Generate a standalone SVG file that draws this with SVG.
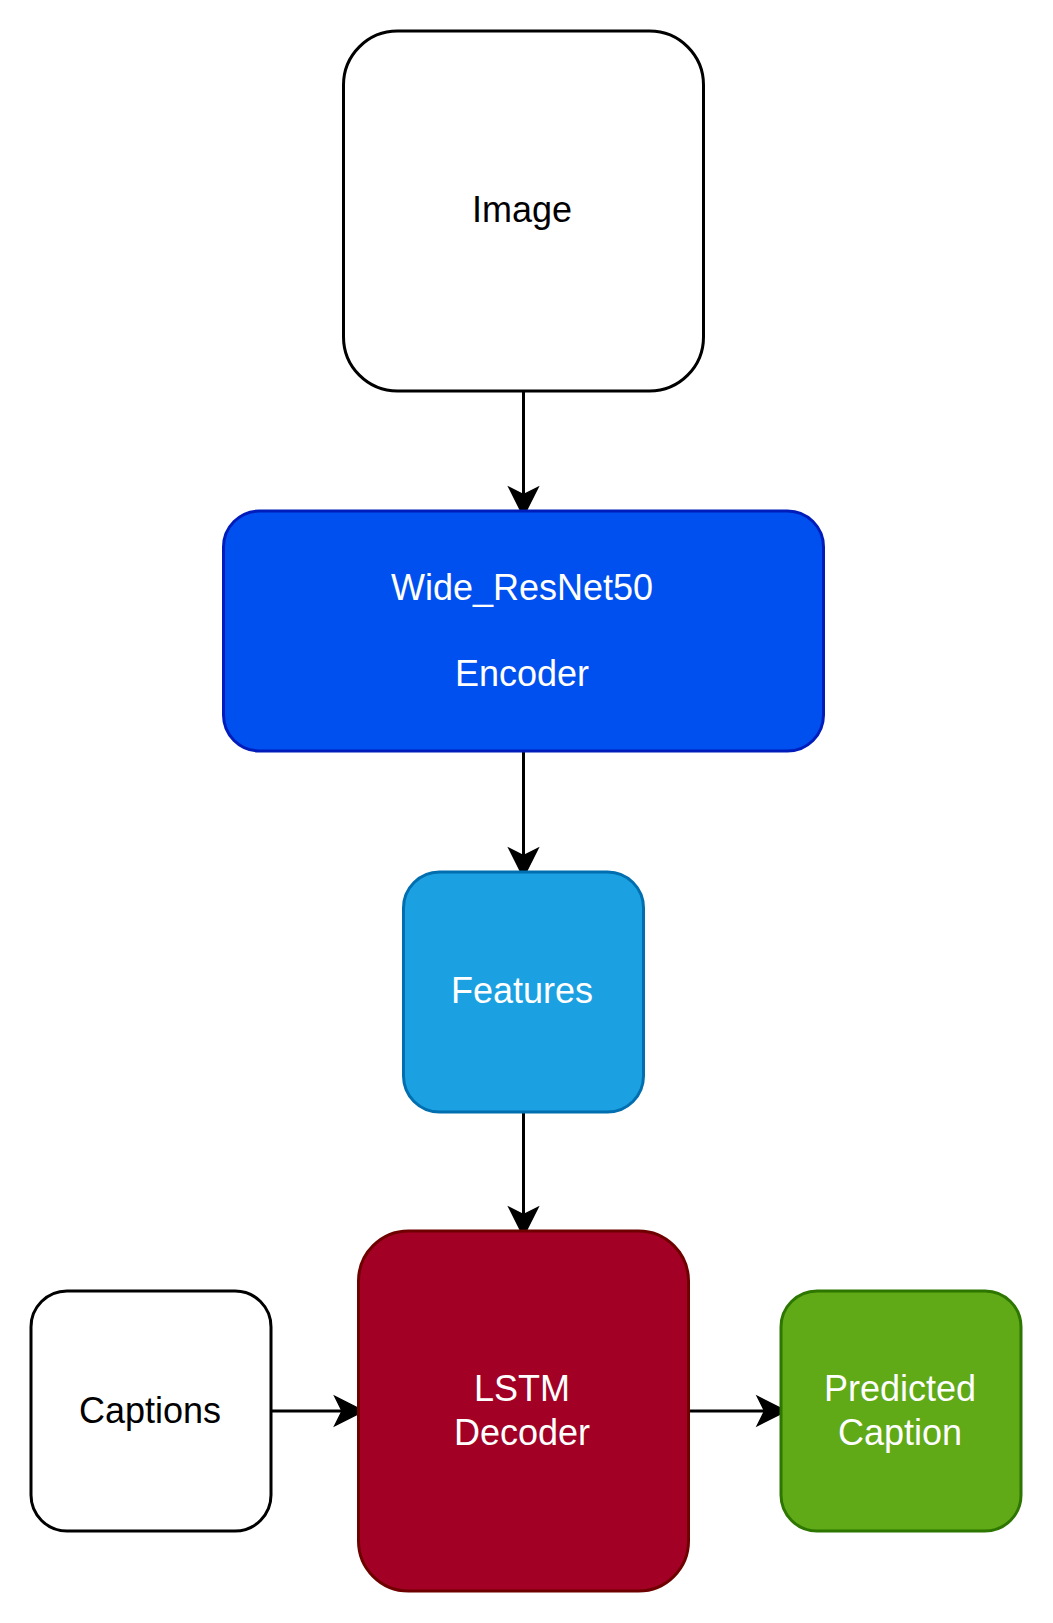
<svg xmlns="http://www.w3.org/2000/svg" width="1053" height="1623" viewBox="0 0 1053 1623">
<style>
.box{stroke-width:3}
.lbl{font-family:"Liberation Sans",Arial,Helvetica,sans-serif;font-size:36px;text-anchor:middle}
.w{fill:#ffffff}
.k{fill:#000000}
.edge{fill:none;stroke:#000000;stroke-width:3}
</style>
<defs>
<marker id="arr" markerUnits="userSpaceOnUse" markerWidth="40" markerHeight="40" viewBox="-10 -15 30 30" refX="0" refY="0" orient="auto" overflow="visible">
<path d="M16.5,0 L-5.5,-11 L0,0 L-5.5,11 Z" fill="#000000" stroke="#000000" stroke-width="1"/>
</marker>
</defs>
<rect width="1053" height="1623" fill="#ffffff"/>
<g id="connectors">
<line class="edge" x1="523.5" y1="391" x2="523.5" y2="494.5" marker-end="url(#arr)"/>
<line class="edge" x1="523.5" y1="751" x2="523.5" y2="855.5" marker-end="url(#arr)"/>
<line class="edge" x1="523.5" y1="1112" x2="523.5" y2="1214.5" marker-end="url(#arr)"/>
<line class="edge" x1="271" y1="1411" x2="342" y2="1411" marker-end="url(#arr)"/>
<line class="edge" x1="688.5" y1="1411" x2="764.5" y2="1411" marker-end="url(#arr)"/>
</g>
<g id="node-image">
<rect class="box" x="343.5" y="31" width="360" height="360" rx="54" ry="54" fill="#ffffff" stroke="#000000"/>
<text class="lbl k" x="522" y="222">Image</text>
</g>
<g id="node-encoder">
<rect class="box" x="223.5" y="511" width="600" height="240" rx="36" ry="36" fill="#0050EF" stroke="#001DBC"/>
<text class="lbl w" x="522" y="600">Wide_ResNet50</text>
<text class="lbl w" x="522" y="686">Encoder</text>
</g>
<g id="node-features">
<rect class="box" x="403.5" y="872" width="240" height="240" rx="36" ry="36" fill="#1BA1E2" stroke="#006EAF"/>
<text class="lbl w" x="522" y="1003">Features</text>
</g>
<g id="node-decoder">
<rect class="box" x="358.5" y="1231" width="330" height="360" rx="50" ry="50" fill="#A20025" stroke="#6F0000"/>
<text class="lbl w" x="522" y="1401">LSTM</text>
<text class="lbl w" x="522" y="1445">Decoder</text>
</g>
<g id="node-captions">
<rect class="box" x="31" y="1291" width="240" height="240" rx="36" ry="36" fill="#ffffff" stroke="#000000"/>
<text class="lbl k" x="150" y="1423">Captions</text>
</g>
<g id="node-predicted">
<rect class="box" x="781" y="1291" width="240" height="240" rx="36" ry="36" fill="#60A917" stroke="#2D7600"/>
<text class="lbl w" x="900" y="1401">Predicted</text>
<text class="lbl w" x="900" y="1445">Caption</text>
</g>
</svg>
